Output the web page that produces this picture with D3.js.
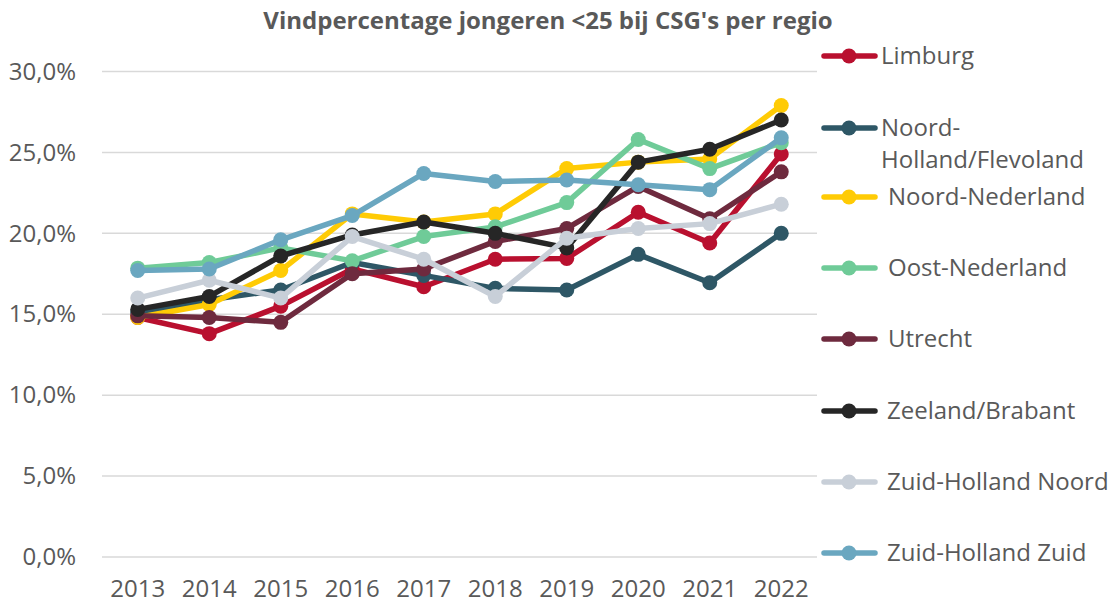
<!DOCTYPE html>
<html>
<head>
<meta charset="utf-8">
<script src="https://cdn.jsdelivr.net/npm/d3@7"></script>
<style>
  body { margin: 0; background: #fff; }
  text { font-family: "Open Sans", sans-serif; fill: #595959; }
</style>
</head>
<body>
<svg id="chart" width="1119" height="605"></svg>
<script>
var years = ['2013', '2014', '2015', '2016', '2017', '2018', '2019', '2020', '2021', '2022'];
var yTicks = [0, 5, 10, 15, 20, 25, 30];

var regions = ['Limburg', 'Noord-Holland/Flevoland', 'Noord-Nederland', 'Oost-Nederland',
    'Utrecht', 'Zeeland/Brabant', 'Zuid-Holland Noord', 'Zuid-Holland Zuid'];
var colors = ['#b9102f', '#2e5766', '#ffcb05', '#6fcb98', '#6e2a3e', '#262626', '#c8cfd8', '#6aa7c0'];

var limburg       = [14.8, 13.8, 15.5, 17.8, 16.7, 18.4, 18.45, 21.3, 19.4, 24.9];
var noordHolland  = [15.1, 15.9, 16.5, 18.2, 17.4, 16.6, 16.5, 18.7, 16.95, 20.0];
var noordNl       = [14.8, 15.6, 17.7, 21.2, 20.7, 21.2, 24.0, 24.4, 24.6, 27.9];
var oostNl        = [17.85, 18.2, 19.1, 18.3, 19.8, 20.4, 21.9, 25.8, 24.0, 25.6];
var utrecht       = [14.9, 14.8, 14.5, 17.5, 17.8, 19.5, 20.3, 22.9, 20.9, 23.8];
var zeeland       = [15.3, 16.1, 18.6, 19.9, 20.7, 20.0, 19.1, 24.4, 25.2, 27.0];
var zhNoord       = [16.0, 17.1, 16.0, 19.8, 18.4, 16.1, 19.7, 20.3, 20.6, 21.8];
var zhZuid        = [17.7, 17.8, 19.6, 21.1, 23.7, 23.2, 23.3, 23.0, 22.7, 25.9];

var series = [limburg, noordHolland, noordNl, oostNl, utrecht, zeeland, zhNoord, zhZuid];

var svg = d3.select('#chart');

var x = d3.scaleBand().domain(years).range([102, 817]);
var y = d3.scaleLinear().domain([0, 30]).range([557, 71.5]);
var fmt = function (v) { return v.toFixed(1).replace('.', ',') + '%'; };

// title
svg.append('text')
    .attr('x', 548).attr('y', 29)
    .attr('text-anchor', 'middle')
    .style('font-size', '24px').style('font-weight', 'bold')
    .text("Vindpercentage jongeren <25 bij CSG's per regio");

// gridlines
svg.append('g').selectAll('line')
    .data(yTicks).enter().append('line')
    .attr('x1', 102).attr('x2', 817)
    .attr('y1', function (d) { return y(d); })
    .attr('y2', function (d) { return y(d); })
    .style('stroke', '#d9d9d9').style('stroke-width', 1.5);

// y axis
var yAxis = svg.append('g')
    .attr('transform', 'translate(80,0)')
    .call(d3.axisLeft(y).tickValues(yTicks).tickFormat(fmt).tickSize(0).tickPadding(4));
yAxis.select('.domain').remove();
yAxis.selectAll('text').style('font-size', '24px').style('fill', '#595959').style('font-family', '"Open Sans", sans-serif');

// x axis
var xAxis = svg.append('g')
    .attr('transform', 'translate(0,574)')
    .call(d3.axisBottom(x).tickSize(0).tickPadding(6));
xAxis.select('.domain').remove();
xAxis.selectAll('text').style('font-size', '24px').style('fill', '#595959').style('font-family', '"Open Sans", sans-serif');

var line = d3.line()
    .x(function (d, i) { return x(years[i]) + x.bandwidth() / 2; })
    .y(function (d) { return y(d); });

series.forEach(function (s, k) {
    var g = svg.append('g');
    g.append('path')
        .datum(s)
        .attr('d', line)
        .style('fill', 'none')
        .style('stroke', colors[k])
        .style('stroke-width', 5.5)
        .style('stroke-linejoin', 'round');
    g.selectAll('circle')
        .data(s).enter().append('circle')
        .attr('cx', function (d, i) { return x(years[i]) + x.bandwidth() / 2; })
        .attr('cy', function (d) { return y(d); })
        .attr('r', 7.5)
        .style('fill', colors[k]);
});

// legend
var legendY = [56, 128, 197, 268, 339, 411, 482, 553];
var legendTx = [881, 881, 888, 888, 888, 887, 887, 887];
regions.forEach(function (r, k) {
    var g = svg.append('g').attr('transform', 'translate(0,' + legendY[k] + ')');
    g.append('line')
        .attr('x1', 824).attr('x2', 875)
        .style('stroke', colors[k]).style('stroke-width', 5.5)
        .style('stroke-linecap', 'round');
    g.append('circle').attr('cx', 849).attr('r', 7.5).style('fill', colors[k]);
    if (k === 1) {
        g.append('text').attr('x', legendTx[k]).attr('dy', '0.35em')
            .style('font-size', '24px').text('Noord-');
        g.append('text').attr('x', legendTx[k]).attr('y', 32).attr('dy', '0.35em')
            .style('font-size', '24px').text('Holland/Flevoland');
    } else {
        g.append('text').attr('x', legendTx[k]).attr('dy', '0.35em')
            .style('font-size', '24px').text(r);
    }
});
</script>
</body>
</html>
